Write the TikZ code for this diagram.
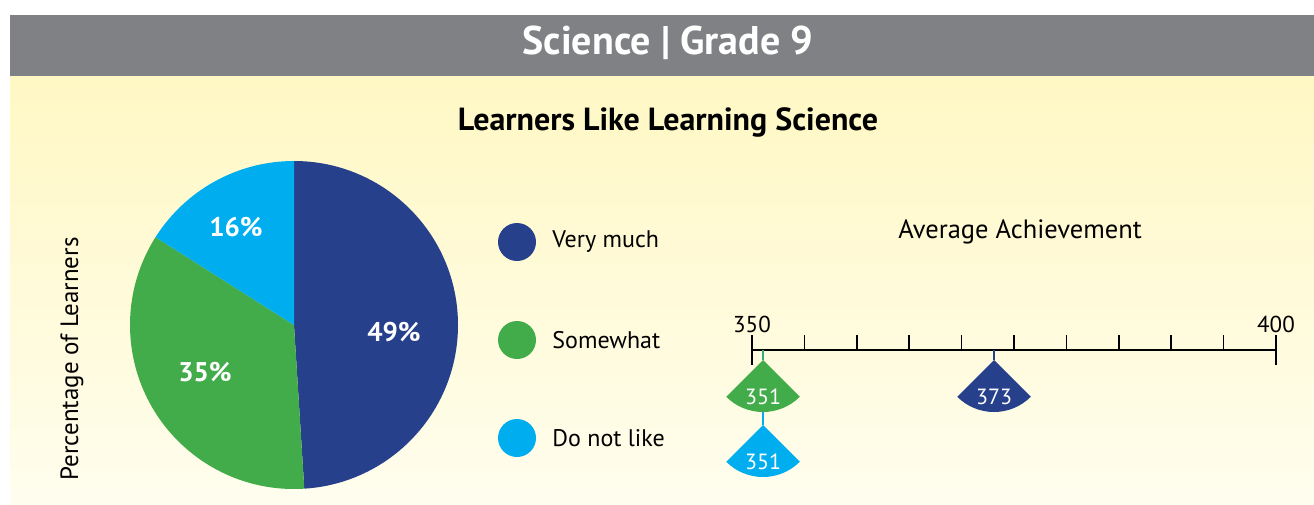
\documentclass[tikz,border=0pt]{standalone}
\usepackage{fontspec}
\setmainfont{PT Sans}
\usetikzlibrary{positioning}

\definecolor{headgray}{RGB}{128,129,133}
\definecolor{bgtop}{RGB}{255,248,196}
\definecolor{bgbot}{RGB}{255,253,238}
\definecolor{verymuch}{RGB}{39,64,140}
\definecolor{somewhat}{RGB}{67,172,74}
\definecolor{notlike}{RGB}{0,174,239}

\newcommand{\fs}[1]{\fontsize{#1}{#1}\selectfont}

\begin{document}
\begin{tikzpicture}[x=1pt, y=1pt,
    pielabel/.style={text=white, font=\fs{27}\bfseries},
    legdot/.style={circle, minimum size=38, inner sep=0},
    legtext/.style={right=16pt of #1, font=\fs{24}, inner sep=0},
    scorelabel/.style={text=white, font=\fs{22}, inner sep=0}]
    \useasboundingbox (0,0) rectangle (1314,-504);

    % Background and header bar
    \fill[top color=bgtop, bottom color=bgbot] (10,-76) rectangle (1314,-504);
    \fill[headgray] (10,-15) rectangle (1314,-76);
    \node[text=white, font=\fs{40}\bfseries] (head) at (668,-43) {Science | Grade 9};

    % Chart title
    \node[font=\fs{32}\bfseries] (title) at (668,-122) {Learners Like Learning Science};

    % Pie chart
    \coordinate (pc) at (294,-325);
    \fill[verymuch] (pc) -- ++(90:164) arc[start angle=90, end angle=-86.4, radius=164] -- cycle;
    \fill[somewhat] (pc) -- ++(-86.4:164) arc[start angle=-86.4, end angle=-212.4, radius=164] -- cycle;
    \fill[notlike] (pc) -- ++(147.6:164) arc[start angle=147.6, end angle=90, radius=164] -- cycle;
    \node[pielabel] (p49) at (394,-332) {49\%};
    \node[pielabel] (p35) at (205,-372) {35\%};
    \node[pielabel] (p16) at (236,-227) {16\%};

    % Vertical axis title
    \node[rotate=90, font=\fs{25}] (ylab) at (72,-359) {Percentage of Learners};

    % Legend
    \node[legdot, fill=verymuch] (dvery) at (517,-242) {};
    \node[legdot, fill=somewhat] (dsome) at (517,-340) {};
    \node[legdot, fill=notlike] (dnot) at (517,-438) {};
    \node[legtext=dvery] (tvery) {Very much};
    \node[legtext=dsome] (tsome) {Somewhat};
    \node[legtext=dnot] (tnot) {Do not like};

    % Achievement scale
    \node[font=\fs{26.5}] (avg) at (1020,-232) {Average Achievement};
    \draw[line width=1.5] (752,-350) -- (1276,-350);
    \foreach \i in {1,...,9}
        \draw[line width=1.5] (752+52.4*\i,-335) -- (752+52.4*\i,-350);
    \draw[line width=1.5] (752,-335) -- (752,-365);
    \draw[line width=1.5] (1276,-335) -- (1276,-365);
    \node[font=\fs{23}, anchor=south] (s350) at (752,-336) {350};
    \node[font=\fs{23}, anchor=south] (s400) at (1276,-336) {400};

    % Score markers
    \coordinate (a373) at (994,-350);
    \coordinate (m373) at (994,-360);
    \fill[verymuch] (m373) -- ++(-135:52) arc[start angle=-135, end angle=-45, radius=52] -- cycle;
    \node[scorelabel] (n373) at (994,-397) {373};
    \draw[verymuch, line width=1.5] (a373) -- (m373);

    \coordinate (a351) at (763,-350);
    \coordinate (m351) at (763,-360);
    \fill[somewhat] (m351) -- ++(-135:52) arc[start angle=-135, end angle=-45, radius=52] -- cycle;
    \node[scorelabel] (n351) at (763,-397) {351};
    \draw[somewhat!70!notlike, line width=1.5] (a351) -- (m351);

    \coordinate (b351) at (763,-412);
    \coordinate (k351) at (763,-425);
    \fill[notlike] (k351) -- ++(-135:52) arc[start angle=-135, end angle=-45, radius=52] -- cycle;
    \node[scorelabel] (o351) at (763,-462) {351};
    \draw[notlike, line width=1.5] (b351) -- (k351);
\end{tikzpicture}
\end{document}
